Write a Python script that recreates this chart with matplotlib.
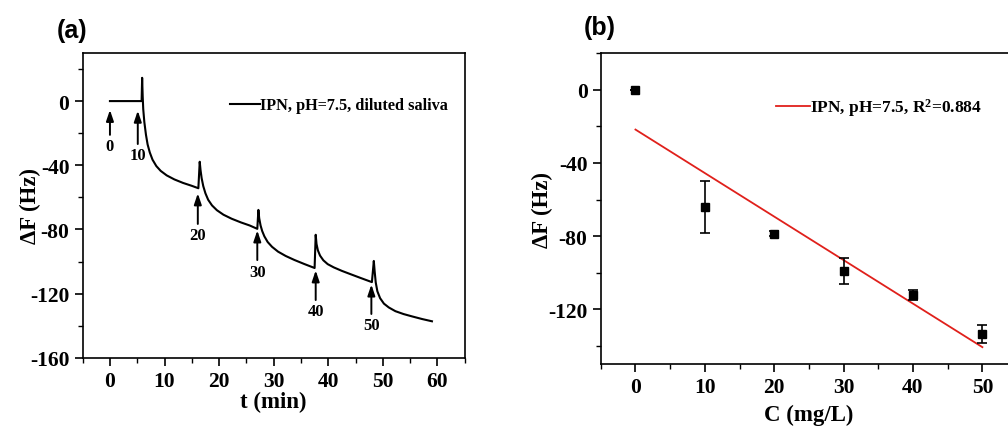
import matplotlib
matplotlib.use("Agg")
import matplotlib.pyplot as plt
import numpy as np
from matplotlib.ticker import MultipleLocator

plt.rcParams["font.family"] = ["Liberation Serif", "DejaVu Serif"]
plt.rcParams["font.weight"] = "bold"
plt.rcParams["axes.unicode_minus"] = False
plt.rcParams["mathtext.fontset"] = "custom"
plt.rcParams["mathtext.bf"] = "Liberation Serif:bold"
plt.rcParams["mathtext.default"] = "bf"

# ---- panel (a): frequency shift vs time ----
t_min = [0, 5.8, 5.9, 6.0, 6.1, 6.3, 6.6, 6.9, 7.3, 7.8, 8.5, 9.3, 10.4,
         11.8, 13.4, 15.0, 16.2,
         16.45, 16.6, 16.8, 17.1, 17.5, 18.0, 18.7, 19.6, 20.8, 22.3, 24.0,
         25.6, 27.0,
         27.2, 27.35, 27.6, 27.9, 28.3, 28.9, 29.7, 30.8, 32.2, 33.8, 35.6,
         37.5,
         37.7, 37.85, 38.1, 38.5, 39.1, 39.9, 41.0, 42.5, 44.2, 46.0, 48.0,
         48.35, 48.5, 48.7, 49.0, 49.5, 50.2, 51.1, 52.3, 53.8, 55.4, 57.2,
         59.0]
dF_trace = [0, 0, 14.5, 3, -5, -13, -21, -27, -32, -36.5, -40.5, -43.5,
            -46.3, -48.8, -51, -52.8, -54.3,
            -37.8, -43, -48, -53, -57.5, -61.5, -65, -68, -70.8, -73.3,
            -75.6, -77.5, -79.6,
            -67.8, -73, -77.5, -81, -84.3, -87.8, -90.8, -93.8, -96.5, -99,
            -101.5, -104,
            -83.3, -89, -93, -96.3, -99.2, -101.6, -103.6, -105.8, -108,
            -110.3, -112.8,
            -99.6, -106, -113, -118.5, -122.8, -126.2, -128.6, -130.9,
            -132.7, -134.2, -135.8, -137.2]

# injection arrows: concentration label, time, arrow tip, label centre
inj_labels = ["0", "10", "20", "30", "40", "50"]
inj_t = [0, 5.1, 16.1, 27.0, 37.7, 47.9]
inj_tip = [-5.5, -6, -57.5, -80.6, -105.5, -114.3]
inj_text_y = [-28.2, -33.9, -83.7, -106.2, -131.1, -139.8]

# ---- panel (b): calibration ----
conc = [0, 10, 20, 30, 40, 50]
dF_mean = [0, -63.9, -78.7, -99.0, -112.2, -133.7]
dF_err = [0, 14.2, 1.5, 7.1, 2.8, 4.9]

fig = plt.figure(figsize=(10.08, 4.35), dpi=100)
ax1 = fig.add_axes([0.082, 0.175, 0.379, 0.701])
ax2 = fig.add_axes([0.596, 0.161, 0.413, 0.714])

TICK = 15.5
LAB = 16.5

ax1.plot(t_min, dF_trace, color="black", lw=1.5,
         label="IPN, pH=7.5, diluted saliva")
for lab, t, tip, ty in zip(inj_labels, inj_t, inj_tip, inj_text_y):
    ax1.annotate(lab, xy=(t, tip), xytext=(t, ty), ha="center", va="center",
                 fontsize=12, fontweight="bold",
                 arrowprops=dict(arrowstyle="-|>,head_length=0.65,head_width=0.22",
                                 color="black", lw=1.4, shrinkA=0.5, shrinkB=0,
                                 mutation_scale=10))
ax1.set_xlim(-5, 65)
ax1.set_ylim(-160, 30)
ax1.xaxis.set_major_locator(MultipleLocator(10))
ax1.xaxis.set_minor_locator(MultipleLocator(5))
ax1.yaxis.set_major_locator(MultipleLocator(40))
ax1.yaxis.set_minor_locator(MultipleLocator(20))
ax1.set_xlabel("t (min)", fontsize=LAB, fontweight="bold", labelpad=0)
ax1.set_ylabel("ΔF (Hz)", fontsize=LAB, fontweight="bold")
ax1.yaxis.set_label_coords(-0.109, 0.5)
ax1.legend(loc="center left", bbox_to_anchor=(0.385, 0.828), frameon=False,
           fontsize=11.7, handlelength=1.85, handletextpad=0,
           borderpad=0, borderaxespad=0)

# linear fit through the calibration points
slope, icpt = np.polyfit(conc, dF_mean, 1)
xfit = np.array([conc[0], conc[-1]])
ax2.plot(xfit, slope * xfit + icpt, color="#e0201b", lw=1.3,
         label=r"IPN, pH=7.5, R$^{\mathbf{2}}$=0.884")
ax2.errorbar(conc, dF_mean, yerr=dF_err, fmt="s", color="black", ms=5.5,
             elinewidth=1.2, capsize=3.5, capthick=1.2)
ax2.set_xlim(-5, 55)
ax2.set_ylim(-150, 20)
ax2.xaxis.set_major_locator(MultipleLocator(10))
ax2.xaxis.set_minor_locator(MultipleLocator(5))
ax2.yaxis.set_major_locator(MultipleLocator(40))
ax2.yaxis.set_minor_locator(MultipleLocator(20))
ax2.set_xlabel("C (mg/L)", fontsize=LAB, fontweight="bold", labelpad=5)
ax2.set_ylabel("ΔF (Hz)", fontsize=LAB, fontweight="bold")
ax2.yaxis.set_label_coords(-0.115, 0.5)
ax2.legend(loc="center left", bbox_to_anchor=(0.421, 0.827), frameon=False,
           fontsize=12.5, handlelength=1.95, handletextpad=0,
           borderpad=0, borderaxespad=0)

for ax in (ax1, ax2):
    for sp in ax.spines.values():
        sp.set_linewidth(1.2)
    ax.tick_params(which="major", direction="out", length=6, width=1.2,
                   labelsize=TICK, top=False, right=False)
    ax.tick_params(which="minor", direction="out", length=3.5, width=1.0,
                   top=False, right=False)
    for lbl in ax.get_xticklabels() + ax.get_yticklabels():
        lbl.set_fontweight("bold")

fig.text(0.071, 0.928, "(a)", fontsize=18, fontweight="bold",
         family="Liberation Sans", ha="center", va="center")
fig.text(0.595, 0.935, "(b)", fontsize=18, fontweight="bold",
         family="Liberation Sans", ha="center", va="center")

fig.savefig("out.png", dpi=100)
